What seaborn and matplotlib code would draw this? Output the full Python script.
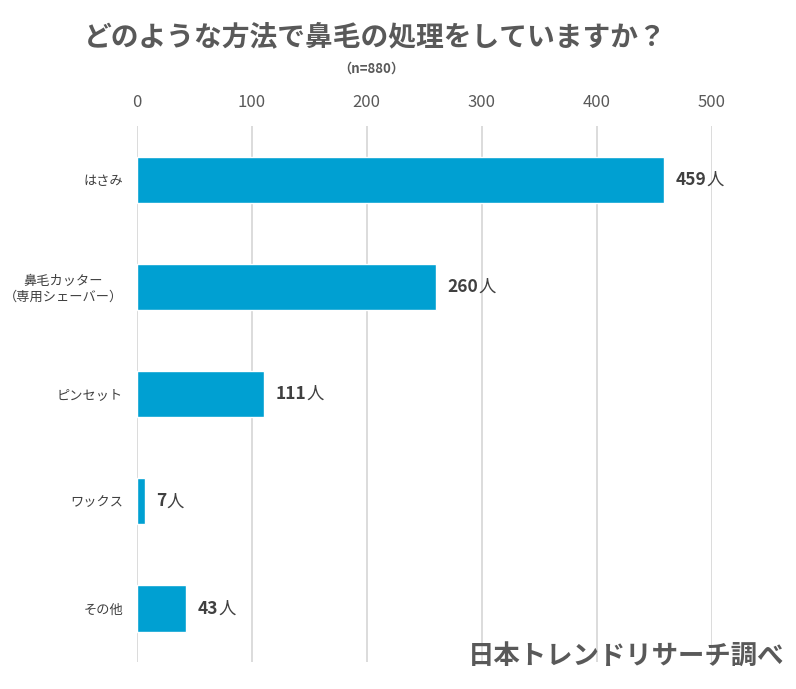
import matplotlib
matplotlib.use("Agg")
import matplotlib.pyplot as plt
import seaborn as sns
import pandas as pd

categories = ["はさみ", "鼻毛カッター\n（専用シェーバー）", "ピンセット", "ワックス", "その他"]
values = [459, 260, 111, 7, 43]
xticks = [0, 100, 200, 300, 400, 500]

sns.set_theme(style="white")
plt.rcParams['font.family'] = ['Noto Sans CJK JP', 'DejaVu Sans']

df = pd.DataFrame({"cat": categories, "val": values})

fig = plt.figure(figsize=(7.96, 6.89), dpi=100)
ax = fig.add_axes([0.172, 0.039, 0.722, 0.778])
sns.barplot(data=df, x="val", y="cat", orient="h", color="#00A0D2",
            width=0.43, ax=ax, saturation=1, zorder=3)
ax.set_xlim(0, 500)
ax.set_xticks(xticks)
ax.xaxis.tick_top()
ax.tick_params(axis="x", labelsize=12, colors="#595959", length=0, pad=11)
ax.tick_params(axis="y", labelsize=9.5, colors="#404040", length=0, pad=10)
for lbl in ax.get_yticklabels():
    lbl.set_multialignment("center")
ax.grid(axis="x", color="#D9D9D9", linewidth=1.3, zorder=0)
ax.grid(axis="y", visible=False)
for s in ax.spines.values():
    s.set_visible(False)
ax.set_xlabel("")
ax.set_ylabel("")

for i, v in enumerate(values):
    ax.text(v + 10, i, f"{v}", fontsize=12.5, fontweight="bold", color="#404040",
            va="center", ha="left")
fig.canvas.draw()
r = fig.canvas.get_renderer()
for i, v in enumerate(values):
    t = ax.texts[i]
    bb = t.get_window_extent(renderer=r)
    xd = ax.transData.inverted().transform((bb.x1, 0))[0]
    ax.text(xd, i, "人", fontsize=12.5, color="#404040", va="center", ha="left")

fig.text(0.471, 0.946, "どのような方法で鼻毛の処理をしていますか？", fontsize=20,
         fontweight="bold", color="#595959", ha="center", va="center")
fig.text(0.466, 0.901, "（n=880）", fontsize=9.5, fontweight="bold", color="#595959",
         ha="center", va="center")
fig.text(0.786, 0.048, "日本トレンドリサーチ調べ", fontsize=19, fontweight="bold",
         color="#595959", ha="center", va="center", zorder=5)

fig.savefig("out.png", dpi=100, facecolor="white")
